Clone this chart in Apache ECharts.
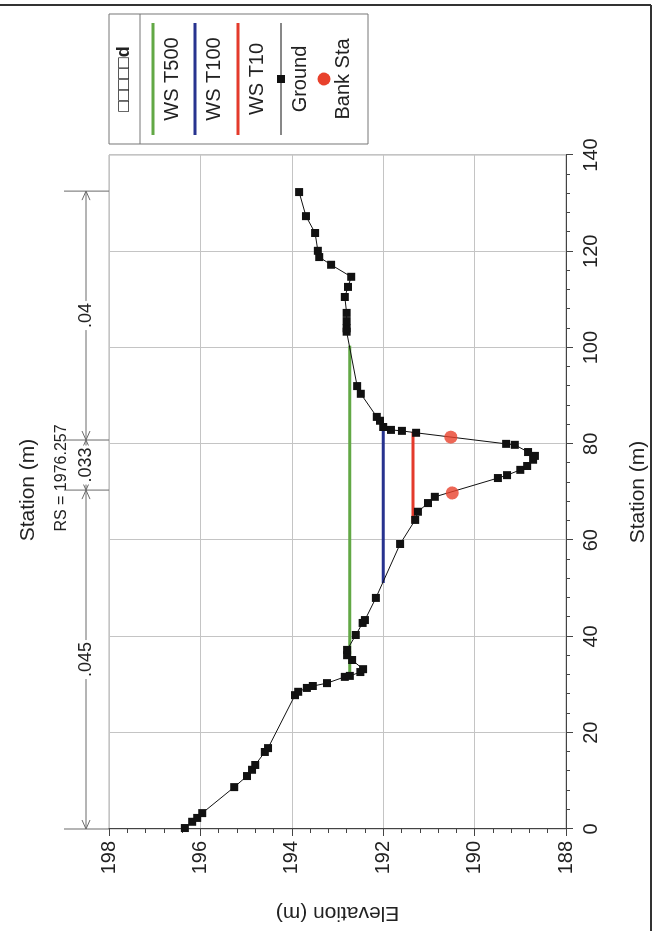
<!DOCTYPE html>
<html><head><meta charset="utf-8">
<script src="https://cdn.jsdelivr.net/npm/echarts@6/dist/echarts.min.js"></script>
<style>
html,body{margin:0;padding:0;background:#fff;overflow:hidden;width:656px;height:931px;}
#wrap{position:absolute;left:0;top:0;width:931px;height:656px;transform-origin:0 0;transform:translateY(931px) rotate(-90deg);}
#chart{width:931px;height:656px;}
</style></head><body>
<div id="wrap"><div id="chart"></div></div>
<script>
// ---- data ----
const groundStation = [0.2,1.5,2.3,3.3,8.7,11.0,12.3,13.3,16.0,16.8,27.8,28.5,29.3,29.7,30.3,31.6,31.8,32.6,33.2,35.1,36.1,37.2,40.3,42.8,43.4,48.0,59.2,64.2,65.9,67.7,69.0,72.9,73.5,74.6,75.4,76.7,77.5,78.3,79.8,80.0,82.3,82.7,82.9,83.5,84.8,85.6,90.4,92.0,103.3,104.0,105.5,107.2,110.5,112.6,114.7,117.2,118.8,120.1,123.8,127.3,132.3];
const groundElevation = [196.34,196.18,196.07,195.96,195.26,194.98,194.87,194.80,194.59,194.52,193.93,193.86,193.67,193.54,193.23,192.84,192.73,192.50,192.44,192.68,192.79,192.79,192.60,192.45,192.40,192.16,191.63,191.30,191.24,191.02,190.87,189.49,189.29,189.00,188.85,188.72,188.68,188.83,189.12,189.31,191.28,191.59,191.83,192.00,192.07,192.14,192.49,192.57,192.80,192.80,192.80,192.80,192.84,192.77,192.70,193.14,193.40,193.43,193.49,193.69,193.84];
const bankStation = [69.8, 81.4];
const bankElevation = [190.49, 190.52];
const wsT500Station = [31.6, 100.4, null, 114.2, 115.0];
const wsT500Elevation = [192.73, 192.73, null, 192.73, 192.73];
const wsT100Station = [51.1, 83.5];
const wsT100Elevation = [192.0, 192.0];
const wsT10Station = [63.6, 82.5];
const wsT10Elevation = [191.35, 191.35];
const manningN = ['.045', '.033', '.04'];
const manningBreaks = [0, 70.4, 80.8, 132.5];
const seriesNames = ['WS T500', 'WS T100', 'WS T10', 'Ground', 'Bank Sta'];
const stationTicks = {min: 0, max: 140, interval: 20};
const elevationTicks = {min: 188, max: 198, interval: 2};
const titleText = 'Station (m)';
const subText = 'RS = 1976.257';
const legendHeader = '\u25A1\u25A1\u25A1\u25A1\u25A1d';

// ---- styles ----
const FONT = '"Liberation Sans", Arial, sans-serif';
const COLORS = {t500: '#62a845', t100: '#27338f', t10: '#e43a2b', ground: '#111', bank: '#e8412c'};

function pairs(xs, ys) { return xs.map((x, i) => (x === null ? null : [x, ys[i]])); }

const chart = echarts.init(document.getElementById('chart'), null, {renderer: 'canvas'});
const option = {
  animation: false,
  backgroundColor: '#ffffff',
  grid: {left: 102, right: 155, top: 109, bottom: 90, show: true, borderColor: '#b0b0b0', borderWidth: 1, containLabel: false},
  xAxis: {
    type: 'value', min: stationTicks.min, max: stationTicks.max, interval: stationTicks.interval,
    name: 'Station (m)', nameLocation: 'middle', nameGap: 62,
    nameTextStyle: {fontFamily: FONT, fontSize: 21, color: '#222'},
    axisLine: {show: true, onZero: false, lineStyle: {color: '#444', width: 1}},
    axisTick: {show: true, length: 7, lineStyle: {color: '#444'}},
    minorTick: {show: true, splitNumber: 5, length: 4, lineStyle: {color: '#444'}},
    axisLabel: {fontFamily: FONT, fontSize: 20, color: '#222', margin: 15},
    splitLine: {show: true, lineStyle: {color: '#c4c4c4', width: 1}}
  },
  yAxis: {
    type: 'value', min: elevationTicks.min, max: elevationTicks.max, interval: elevationTicks.interval,
    name: 'Elevation (m)', nameLocation: 'middle', nameGap: 73, nameRotate: 90,
    nameTextStyle: {fontFamily: FONT, fontSize: 21, color: '#222'},
    axisLine: {show: true, onZero: false, lineStyle: {color: '#444', width: 1}},
    axisTick: {show: true, length: 7, lineStyle: {color: '#444'}},
    minorTick: {show: true, splitNumber: 5, length: 4, lineStyle: {color: '#444'}},
    axisLabel: {fontFamily: FONT, fontSize: 20, color: '#222', margin: 12},
    splitLine: {show: true, lineStyle: {color: '#c4c4c4', width: 1}}
  },
  series: [
    {name: seriesNames[0], type: 'line', data: pairs(wsT500Station, wsT500Elevation), showSymbol: false, symbol: 'none', connectNulls: false,
     lineStyle: {color: COLORS.t500, width: 3}, z: 2},
    {name: seriesNames[1], type: 'line', data: pairs(wsT100Station, wsT100Elevation), symbol: 'none',
     lineStyle: {color: COLORS.t100, width: 3}, z: 2},
    {name: seriesNames[2], type: 'line', data: pairs(wsT10Station, wsT10Elevation), symbol: 'none',
     lineStyle: {color: COLORS.t10, width: 3}, z: 2},
    {name: seriesNames[3], type: 'line', data: pairs(groundStation, groundElevation), symbol: 'rect', symbolSize: 8,
     itemStyle: {color: COLORS.ground}, lineStyle: {color: COLORS.ground, width: 1}, z: 3},
    {name: seriesNames[4], type: 'scatter', data: pairs(bankStation, bankElevation), symbol: 'circle', symbolSize: 13,
     itemStyle: {color: COLORS.bank}, z: 4}
  ]
};
chart.setOption(option);

// ---- annotations (computed from axis scale) ----
const g = [];
const dimY = 86;
const plotTop = 109;
const lineColor = '#6a6a6a';
const px = s => chart.convertToPixel({xAxisIndex: 0}, s);
manningBreaks.forEach(s => {
  const x = px(s);
  g.push({type: 'line', shape: {x1: x, y1: 64, x2: x, y2: plotTop}, style: {stroke: lineColor, lineWidth: 1}, z: 10});
});
function arrow(xTip, dir) {
  return {type: 'polyline', shape: {points: [[xTip + dir * 9, dimY - 4], [xTip, dimY], [xTip + dir * 9, dimY + 4]]},
    style: {stroke: lineColor, lineWidth: 1, fill: null}, z: 10};
}
for (let i = 0; i < manningN.length; i++) {
  const x0 = px(manningBreaks[i]), x1 = px(manningBreaks[i + 1]);
  g.push({type: 'line', shape: {x1: x0, y1: dimY, x2: x1, y2: dimY}, style: {stroke: lineColor, lineWidth: 1}, z: 10});
  g.push(arrow(x0, 1));
  g.push(arrow(x1, -1));
  g.push({type: 'text', x: (x0 + x1) / 2, y: dimY, z: 11,
    style: {text: manningN[i], font: '18px ' + FONT, fill: '#222', align: 'center', verticalAlign: 'middle',
      backgroundColor: '#fff', padding: [0, 2]}});
}
// title
const plotMid = (px(stationTicks.min) + px(stationTicks.max)) / 2;
g.push({type: 'text', x: plotMid + 2, y: 28, style: {text: titleText, font: '21px ' + FONT, fill: '#222', align: 'center', verticalAlign: 'middle'}});
g.push({type: 'text', x: plotMid + 14, y: 62, style: {text: subText, font: '16px ' + FONT, fill: '#222', align: 'center', verticalAlign: 'middle'}});
// legend box
const LX = 787, LY = 109, LW = 130, LH = 259, LC = LX + LW / 2;
g.push({type: 'rect', shape: {x: LX, y: LY, width: LW, height: LH}, style: {stroke: '#777', lineWidth: 1, fill: '#fff'}, z: 5});
g.push({type: 'text', x: LC, y: 124, z: 6, style: {text: legendHeader, font: 'bold 18px ' + FONT, fill: '#222', align: 'center', verticalAlign: 'middle'}});
g.push({type: 'line', shape: {x1: LX, y1: 140, x2: LX + LW, y2: 140}, style: {stroke: '#777', lineWidth: 1}, z: 6});
const legColors = [COLORS.t500, COLORS.t100, COLORS.t10];
const lineRows = [153, 195, 238];
const textRows = [172, 214, 257];
for (let i = 0; i < 3; i++) {
  g.push({type: 'line', shape: {x1: LX + 9, y1: lineRows[i], x2: LX + LW - 9, y2: lineRows[i]}, style: {stroke: legColors[i], lineWidth: 3}, z: 6});
  g.push({type: 'text', x: LC, y: textRows[i], z: 6, style: {text: seriesNames[i], font: '20px ' + FONT, fill: '#222', align: 'center', verticalAlign: 'middle'}});
}
g.push({type: 'line', shape: {x1: LX + 9, y1: 281, x2: LX + LW - 9, y2: 281}, style: {stroke: '#111', lineWidth: 1}, z: 6});
g.push({type: 'rect', shape: {x: LC - 4, y: 281 - 4, width: 8, height: 8}, style: {fill: '#111'}, z: 7});
g.push({type: 'text', x: LC, y: 300, z: 6, style: {text: seriesNames[3], font: '20px ' + FONT, fill: '#222', align: 'center', verticalAlign: 'middle'}});
g.push({type: 'circle', shape: {cx: LC, cy: 324, r: 6.5}, style: {fill: COLORS.bank}, z: 6});
g.push({type: 'text', x: LC, y: 343, z: 6, style: {text: seriesNames[4], font: '20px ' + FONT, fill: '#222', align: 'center', verticalAlign: 'middle'}});
// page frame (scan border)
g.push({type: 'line', shape: {x1: 926, y1: 0, x2: 926, y2: 651}, style: {stroke: '#333', lineWidth: 2}});
g.push({type: 'line', shape: {x1: 0, y1: 651, x2: 926, y2: 651}, style: {stroke: '#333', lineWidth: 2}});
chart.setOption({graphic: g});
</script>
</body></html>
